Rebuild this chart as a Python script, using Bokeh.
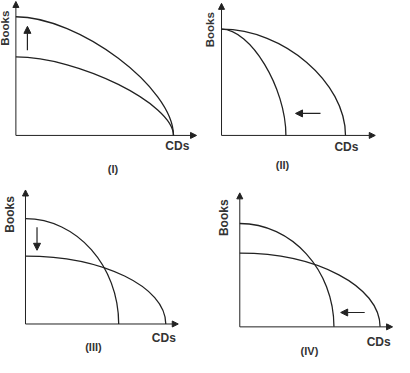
import math
from bokeh.plotting import figure
from bokeh.models import Range1d, Arrow, NormalHead
from bokeh.layouts import gridplot
from bokeh.core.properties import value
from bokeh.embed import file_html
from bokeh.resources import INLINE

# ---- data (intercepts of each production possibilities frontier) ----
y_label = "Books"
x_label = "CDs"
panel_labels = ["(I)", "(II)", "(III)", "(IV)"]

books_I = [124, 82]
cds_I = [164, 164]
books_II = [111, 111]
cds_II = [129, 67]
books_III = [110, 71]
cds_III = [97, 146]
books_IV = [108, 77]
cds_IV = [98, 146]

# ---- layout / style ----
INK = "#222222"
TXT = "#333333"
FONT = value("Liberation Sans")

panels = [
    dict(books=books_I, cds=cds_I, label=panel_labels[0], k=[0.40, 0.40],
         xr=(-16, 189), yr=(-45, 141), w=197, h=178,
         xaxis=188, yaxis=140,
         ylab=(-11, 112, "11.5px"), xlab=(168, -11.5), plab=(101, -35),
         shift=(12, 89, 12, 114)),
    dict(books=books_II, cds=cds_II, label=panel_labels[1], k=[0.50, 0.45],
         xr=(-25, 180), yr=(-45, 141), w=197, h=178,
         xaxis=160, yaxis=138,
         ylab=(-11.5, 110.5, "11.5px"), xlab=(130, -12), plab=(63.5, -31),
         shift=(103, 23, 77, 23)),
    dict(books=books_III, cds=cds_III, label=panel_labels[2], k=[0.55, 0.55],
         xr=(-26, 179), yr=(-35, 152), w=197, h=179,
         xaxis=159, yaxis=140,
         ylab=(-16, 114.5, "12px"), xlab=(144, -14.5), plab=(70.7, -24.5),
         shift=(12, 101, 12, 77)),
    dict(books=books_IV, cds=cds_IV, label=panel_labels[3], k=[0.55, 0.55],
         xr=(-44, 161), yr=(-32, 155), w=197, h=179,
         xaxis=159, yaxis=140,
         ylab=(-16, 114, "12px"), xlab=(144.5, -16), plab=(72.5, -25.5),
         shift=(130, 15, 105, 15)),
]


def make_panel(cfg):
    p = figure(width=cfg["w"], height=cfg["h"], output_backend="svg",
               toolbar_location=None, x_range=Range1d(*cfg["xr"]),
               y_range=Range1d(*cfg["yr"]), min_border=0)
    p.axis.visible = False
    p.grid.visible = False
    p.outline_line_color = None
    p.background_fill_color = "white"
    p.border_fill_color = "white"

    # axes with arrowheads
    for (xe, ye) in [(cfg["xaxis"], 0), (0, cfg["yaxis"])]:
        p.add_layout(Arrow(x_start=0, y_start=0, x_end=xe, y_end=ye,
                           line_color=INK, line_width=1,
                           end=NormalHead(size=6, fill_color=INK,
                                          line_color=INK, line_width=1)))

    # frontier curves
    b = cfg["books"]
    c = cfg["cds"]
    k = cfg["k"]
    p.bezier(x0=[0] * len(b), y0=b, x1=c, y1=[0] * len(c),
             cx0=[kk * v for kk, v in zip(k, c)], cy0=b,
             cx1=c, cy1=[kk * v for kk, v in zip(k, b)],
             line_color=INK, line_width=1.3)

    # shift arrow
    sx0, sy0, sx1, sy1 = cfg["shift"]
    p.add_layout(Arrow(x_start=sx0, y_start=sy0, x_end=sx1, y_end=sy1,
                       line_color=INK, line_width=1.2,
                       end=NormalHead(size=7, fill_color=INK,
                                      line_color=INK, line_width=1)))

    # texts
    yx, yy, yfs = cfg["ylab"]
    p.text(x=[yx], y=[yy], text=[y_label], angle=math.pi / 2,
           text_font=FONT, text_font_style="bold", text_font_size=yfs,
           text_color=TXT, text_align="center", text_baseline="middle")
    p.text(x=[cfg["xlab"][0]], y=[cfg["xlab"][1]], text=[x_label],
           text_font=FONT, text_font_style="bold", text_font_size="12px",
           text_color=TXT, text_align="center", text_baseline="middle")
    p.text(x=[cfg["plab"][0]], y=[cfg["plab"][1]], text=[cfg["label"]],
           text_font=FONT, text_font_style="bold", text_font_size="11px",
           text_color=TXT, text_align="center", text_baseline="middle")
    return p


figs = [make_panel(cfg) for cfg in panels]
layout = gridplot([[figs[0], figs[1]], [figs[2], figs[3]]],
                  toolbar_location=None)

open("out.html", "w").write(file_html(layout, INLINE))
